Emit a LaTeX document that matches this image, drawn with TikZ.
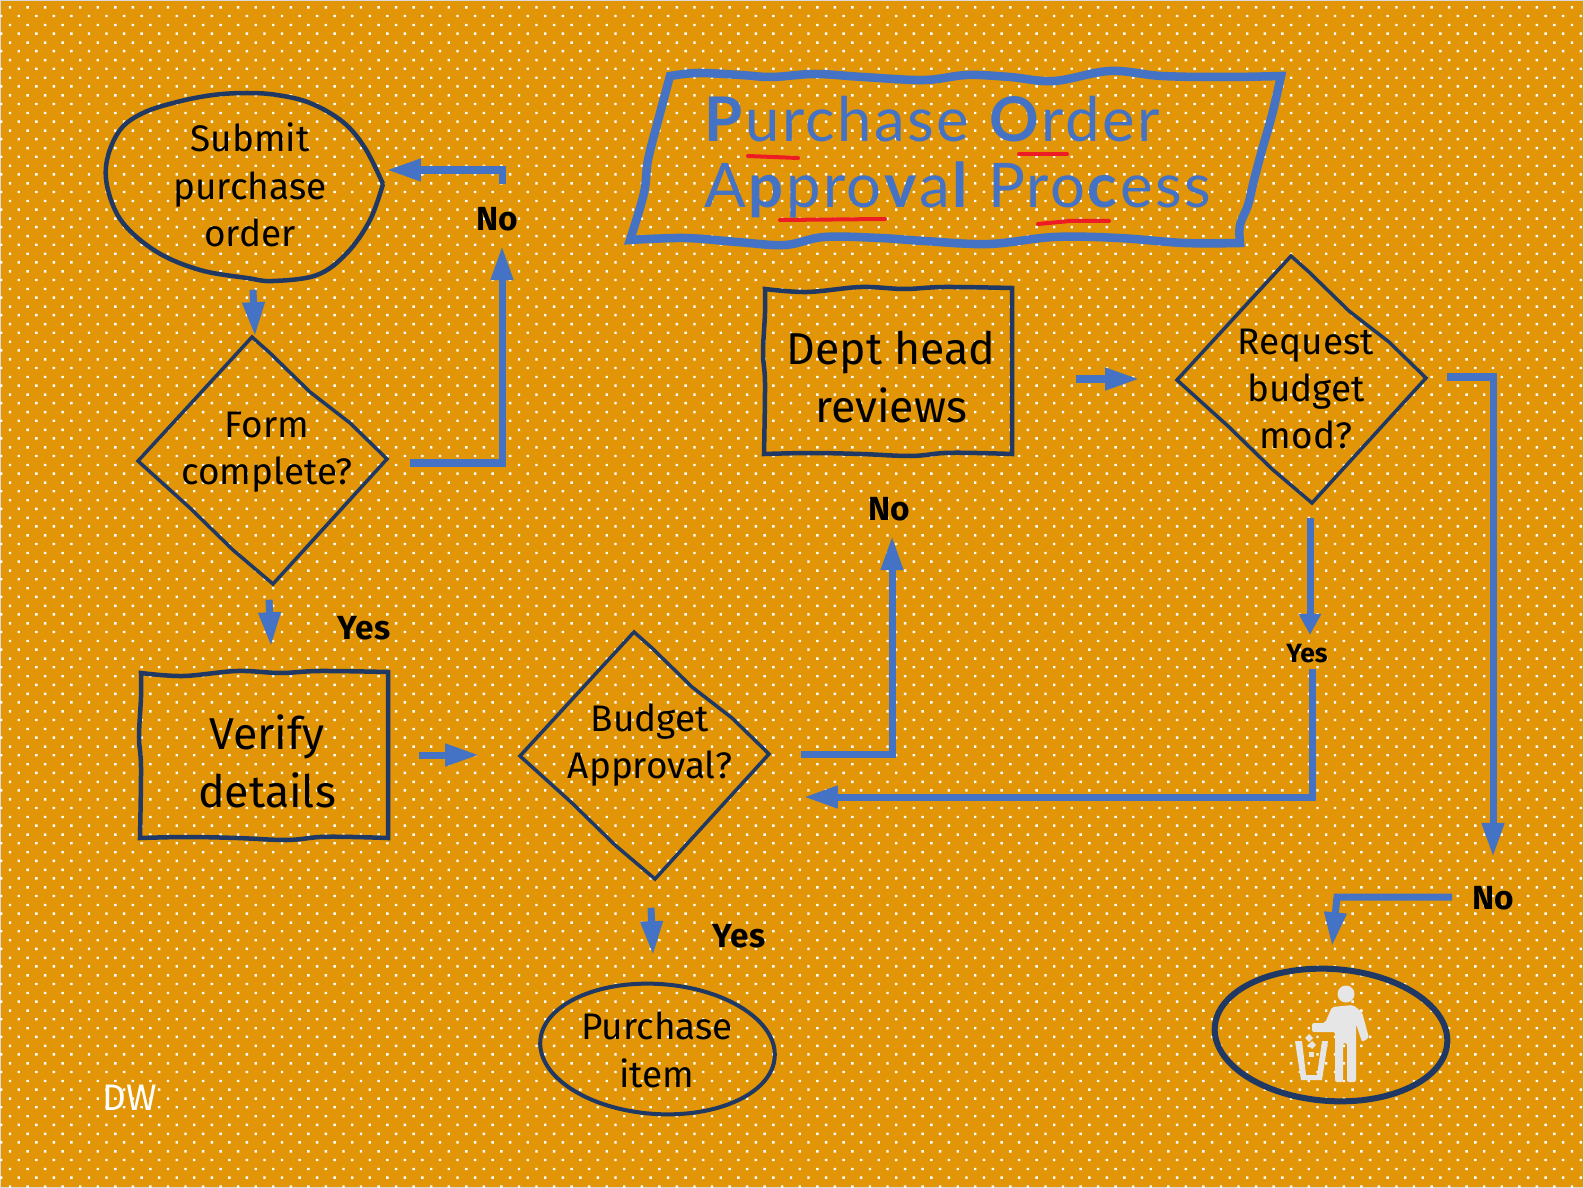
\documentclass[tikz,border=0pt]{standalone}
\usepackage{fontspec}
\setmainfont{Fira Sans}
\newfontfamily\headfont{Lato}[LetterSpace=4]
\usepackage{tikz}
\usetikzlibrary{arrows.meta,positioning,calc}
\definecolor{bgorange}{HTML}{E29506}
\definecolor{flowblue}{HTML}{4472C4}
\definecolor{inknavy}{HTML}{1F3864}
\definecolor{redmark}{HTML}{ED1C24}
\definecolor{icongray}{HTML}{E6E6E6}
\newcommand{\wobblediamond}[2]{\draw[outline, line width=0.035cm, shift={(#1,#2)}] (-13,-123) -- (5,-107) -- (45,-68) -- (85,-37) -- (122,-1) -- (8,124) -- (-32,90) -- (-75,48) -- (-127,1) -- cycle;}
\newcommand{\wobblebox}[2]{\draw[outline, shift={(#1,#2)}] plot[smooth, tension=0.6] coordinates {(-123,-82) (-81,-79) (-27,-84) (16,-82) (56,-84) (124,-83)} -- plot[smooth, tension=0.6] coordinates {(124,-83) (124,-2) (124,83)} -- plot[smooth, tension=0.6] coordinates {(124,83) (89,82) (56,82) (23,85) (-27,83) (-77,82) (-124,83)} -- plot[smooth, tension=0.6] coordinates {(-124,83) (-123,12) (-125,-18) (-123,-58) (-123,-82)} -- cycle;}
\begin{document}
\begin{tikzpicture}[x=0.01cm, y=-0.01cm, bgdot/.style={fill=white}, outline/.style={draw=inknavy, line width=0.045cm}, flow/.style={-{Triangle[length=0.34cm, width=0.21cm]}, line width=0.07cm, color=flowblue}, flowshort/.style={-{Triangle[length=0.21cm, width=0.21cm]}, line width=0.07cm, color=flowblue}, step box/.style={inner sep=0pt, align=center, font=\fontsize{10.5}{13.5}\selectfont}, bigbox/.style={inner sep=0pt, align=center, minimum width=2.48cm, minimum height=1.66cm, font=\fontsize{12.7}{16.5}\selectfont}, decide/.style={step box, minimum width=2.5cm, minimum height=2.48cm}, lab/.style={anchor=base, font=\fontsize{9.5}{11}\selectfont\bfseries}, redline/.style={draw=redmark, line width=0.04cm, line cap=round}]
\useasboundingbox (0,0) rectangle (1584,1188);
\fill[bgorange, draw=gray!30, line width=0.02cm] (0,0) rectangle (1584,1188);
\foreach \y in {6.2,23.8,...,1188} \fill[bgdot] foreach \x in {8.8,26.35,...,1584} {(\x,\y) rectangle ++(2.4,2.4)};
\foreach \y in {14.8,32.4,...,1188} \fill[bgdot] foreach \x in {0,17.55,...,1584} {(\x,\y) rectangle ++(2.4,2.4)};

\draw[flowblue, line width=0.085cm, miter limit=10] plot[smooth, tension=0.6] coordinates {(670,76) (698,73) (741,75) (772,77) (815,74) (863,77) (924,80) (967,75) (1010,77) (1054,81) (1110,71) (1162,76) (1227,77) (1281,76)} -- plot[smooth, tension=0.6] coordinates {(1281,76) (1272,115) (1262,150) (1254,180) (1248,205) (1240,225) (1240,243)} -- plot[smooth, tension=0.6] coordinates {(1240,243) (1184,243) (1119,238) (1054,237) (989,244) (924,241) (880,238) (824,237) (785,245) (737,242) (685,238) (630,240)} -- plot[smooth, tension=0.6] coordinates {(630,240) (644,193) (648,160) (659,117) (670,76)} -- cycle;
\node[anchor=base west, inner sep=0pt, align=left, text=flowblue, font=\headfont\fontsize{17.5}{19}\selectfont] (title) at (704,208) {\textbf{P}urchase \textbf{O}rder\\A\textbf{p}pro\textbf{v}a\textbf{l} Pro\textbf{c}ess};
\draw[redline] (748,156) -- (798,158);
\draw[redline] (1019,154) -- (1067,154);
\draw[redline] (780,220) -- (885,219);
\draw[redline] (1038,224) -- (1070,221) -- (1109,221);

\draw[outline] plot[smooth, tension=0.6] coordinates {(383,184) (370,220) (347,253) (317,275) (273,281) (247,278) (200,270) (157,252) (123,223) (108,190) (107,160) (120,130) (143,113) (177,102) (213,95) (247,93) (277,95) (310,103) (343,122) (365,148) (383,184)};
\node[step box, minimum width=2.66cm, minimum height=1.88cm] (submit) at (250,185) {Submit\\purchase\\order};
\wobblediamond{265}{460}
\node[decide] (formq) at (267,452) {Form\\complete?};
\wobblebox{264}{755}
\node[bigbox] (verify) at (267,761) {Verify\\details};
\wobblediamond{647}{755}
\node[decide] (budget) at (650,745) {Budget\\Approval?};
\wobblebox{888}{371}
\node[bigbox] (dept) at (891,377) {Dept head\\reviews};
\wobblediamond{1304}{379}
\node[decide] (request) at (1306,389) {Request\\budget\\mod?};
\draw[outline, line width=0.04cm, shift={(657.5,1049)}, rotate=-4] (0,0) ellipse [x radius=117.5, y radius=65];
\node[step box, minimum width=2.36cm, minimum height=1.32cm] (purchase) at (657,1050) {Purchase\\item};
\draw[outline, line width=0.06cm, shift={(1331,1035)}, rotate=-4] (0,0) ellipse [x radius=116.5, y radius=66];
\node[inner sep=0pt, minimum width=2.34cm, minimum height=1.34cm] (trash) at (1331,1035) {};

\fill[icongray] (1346,994) circle (8.5);
\fill[icongray, rounded corners=0.02cm] (1332,1007) -- (1353,1005) -- (1362,1012) -- (1369,1038) -- (1362,1042) -- (1356,1024) -- (1356,1082) -- (1347,1082) -- (1347,1043) -- (1343,1043) -- (1343,1082) -- (1335,1082) -- (1335,1032) -- (1312,1032) -- (1312,1023) -- (1325,1023) -- cycle;
\fill[icongray] (1295,1041) -- (1301,1080) -- (1322,1080) -- (1328,1041) -- (1322,1041) -- (1317,1075) -- (1306,1075) -- (1302,1041) -- cycle;
\fill[icongray] (1309,1034) -- (1313,1038) -- (1309,1042) -- (1305,1038) -- cycle;
\fill[icongray] (1312,1041) -- (1316,1045) -- (1312,1049) -- (1308,1045) -- cycle;
\fill[icongray] (1308.5,1051.5) rectangle (1313.5,1056.5);

\node[lab] (noa) at (497,231) {No};
\node[lab] (yesa) at (364,639) {Yes};
\node[lab] (nob) at (889,520) {No};
\node[lab] (yesb) at (739,947) {Yes};
\node[lab, font=\fontsize{7.5}{9}\selectfont\bfseries] (yesc) at (1307,662) {Yes};
\node[lab] (noc) at (1493,909) {No};
\node[inner sep=0pt, text=white, font=\fontsize{10.5}{12}\selectfont] (dw) at (130,1098) {DW};

\draw[flow] ([shift={(3,10)}]submit.south) -- ([shift={(-12,9)}]formq.north);
\draw[flow] ([shift={(2,23)}]formq.south) -- ([shift={(4,-31)}]verify.north);
\draw[flow] ([shift={(17,11)}]formq.east) -| ([shift={(5,15)}]noa.base);
\draw[flow] ([shift={(5,-47)}]noa.base) |- ([shift={(3,-15)}]submit.east);
\draw[flow] ([shift={(27,-6)}]verify.east) -- ([shift={(-45,10)}]budget.west);
\draw[flow] ([shift={(25,9)}]budget.east) -| ([shift={(3,16)}]nob.base);
\draw[flow] ([shift={(60,2)}]dept.east) -- ([shift={(-41,-10)}]request.west);
\draw[flowshort] ([shift={(4,4)}]request.south) -- ([shift={(3,-27)}]yesc.base);
\draw[flow] ([shift={(5,7)}]yesc.base) |- ([shift={(28,52)}]budget.east);
\draw[flow] ([shift={(15,-12)}]request.east) -| ([shift={(0,-52)}]noc.base);
\draw[flow] ([shift={(-41,-12)}]noc.base) -- ++(-115,0) -- ([shift={(1,-21)}]trash.north);
\draw[flow] ([shift={(1,38)}]budget.south) -- ([shift={(-4,-28)}]purchase.north);
\end{tikzpicture}
\end{document}
